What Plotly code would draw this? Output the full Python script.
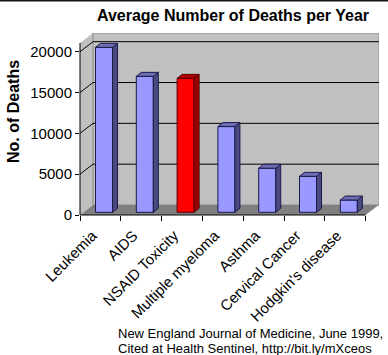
import plotly.graph_objects as go

# ---------------- data ----------------
categories = ["Leukemia", "AIDS", "NSAID Toxicity", "Multiple myeloma",
              "Asthma", "Cervical Cancer", "Hodgkin's disease"]
deaths = [20200, 16650, 16400, 10500, 5400, 4400, 1500]
highlight = "NSAID Toxicity"
y_ticks = [0, 5000, 10000, 15000, 20000]
y_tick_labels = ["0", "5000", "10000", "15000", "20000"]
title = "Average Number of Deaths per Year"
y_title = "No. of Deaths"
source_lines = ["New England Journal of Medicine, June 1999,",
                "Cited at Health Sentinel, http://bit.ly/mXceos"]

# ---------------- geometry (pseudo-3D, in axis units) ----------------
W, H = 388, 355
L, R, T, B = 80, 379, 33, 215          # plot area in pixels
CAT_PX = 40.8                           # pixels per category
VAL_PX = 8.165 / 1000                   # pixels per death
n = len(categories)
x0 = -0.5
x1 = x0 + (R - L) / CAT_PX
y1 = (B - T) / VAL_PX
DX = 13 / CAT_PX                        # wall depth
DY = 10 / VAL_PX
front_top = y1 - DY
BAR_OFF = -0.12
BAR_W = 0.417
BAR_BASE = 2.7 / VAL_PX
BDX = 5 / CAT_PX                        # bar depth
BDY = 4 / VAL_PX

FONT = "Arial, 'Liberation Sans', sans-serif"

def pxx(x):
    return (x - x0) / (x1 - x0)

def pxy(y):
    return y / y1

shapes = []
# left wall
shapes.append(dict(type="path", xref="x", yref="y", layer="below",
                   path=f"M {x0},0 L {x0+DX},{DY} L {x0+DX},{y1} L {x0},{front_top} Z",
                   fillcolor="#c0c0c0", line=dict(width=0)))
# back wall
shapes.append(dict(type="rect", xref="x", yref="y", layer="below",
                   x0=x0 + DX, x1=x1, y0=DY, y1=y1,
                   fillcolor="#c0c0c0", line=dict(color="#8a8a8a", width=1)))
# floor
shapes.append(dict(type="path", xref="x", yref="y", layer="below",
                   path=f"M {x0},0 L {n-0.5},0 L {n-0.5+DX},{DY} L {x0+DX},{DY} Z",
                   fillcolor="#808080", line=dict(width=0)))
# gridlines (back + left wall)
for v in y_ticks[1:]:
    shapes.append(dict(type="line", xref="x", yref="y", layer="below",
                       x0=x0 + DX, x1=x1, y0=v + DY, y1=v + DY,
                       line=dict(color="black", width=1)))
    shapes.append(dict(type="line", xref="x", yref="y", layer="below",
                       x0=x0, x1=x0 + DX, y0=v, y1=v + DY,
                       line=dict(color="black", width=1)))
# front axis lines
shapes.append(dict(type="line", xref="paper", yref="paper",
                   x0=pxx(x0), x1=pxx(x0), y0=0, y1=pxy(front_top),
                   line=dict(color="black", width=1)))
shapes.append(dict(type="line", xref="paper", yref="paper",
                   x0=0, x1=pxx(n - 0.5), y0=0, y1=0,
                   line=dict(color="black", width=1)))
# top border of the image
shapes.append(dict(type="line", xref="paper", yref="paper",
                   x0=-1, x1=2, y0=1 + (T - 0.8) / (B - T), y1=1 + (T - 0.8) / (B - T),
                   line=dict(color="#111111", width=1.6)))

fig = go.Figure()

xs = list(range(n))
front_colors = ["#ff0000" if c == highlight else "#9999ff" for c in categories]
edge_colors = ["#550000" if c == highlight else "#1a1a4d" for c in categories]

fig.add_trace(go.Bar(x=xs, y=deaths, base=BAR_BASE, offset=BAR_OFF, width=BAR_W,
                     marker=dict(color=front_colors,
                                 line=dict(color=edge_colors, width=1)),
                     hoverinfo="skip", showlegend=False))

def faces(indices):
    sx, sy, tx, ty = [], [], [], []
    for i in indices:
        v = deaths[i]
        xl = i + BAR_OFF
        xr = xl + BAR_W
        b0 = BAR_BASE
        b1 = BAR_BASE + v
        sx += [xr, xr + BDX, xr + BDX, xr, xr, None]
        sy += [b0, b0 + BDY, b1 + BDY, b1, b0, None]
        tx += [xl, xl + BDX, xr + BDX, xr, xl, None]
        ty += [b1, b1 + BDY, b1 + BDY, b1, b1, None]
    return sx, sy, tx, ty

blue_idx = [i for i, c in enumerate(categories) if c != highlight]
red_idx = [i for i, c in enumerate(categories) if c == highlight]
for idx, side_c, top_c, edge in [(blue_idx, "#4a4a80", "#6e6eb2", "#1a1a4d"),
                                 (red_idx, "#990000", "#b00000", "#550000")]:
    sx, sy, tx, ty = faces(idx)
    fig.add_trace(go.Scatter(x=sx, y=sy, mode="lines", fill="toself", fillcolor=side_c,
                             line=dict(color=edge, width=1), hoverinfo="skip",
                             showlegend=False))
    fig.add_trace(go.Scatter(x=tx, y=ty, mode="lines", fill="toself", fillcolor=top_c,
                             line=dict(color=edge, width=1), hoverinfo="skip",
                             showlegend=False))

annotations = [
    dict(text=f"<b>{y_title}</b>", xref="paper", yref="paper",
         x=(13 - L) / (R - L), y=(B - 112) / (B - T), textangle=-90,
         showarrow=False, font=dict(family=FONT, size=16, color="black"),
         xanchor="center", yanchor="middle"),
]
for k, line in enumerate(source_lines):
    annotations.append(dict(text=line, xref="paper", yref="paper",
                            x=(116 - L) / (R - L), y=(B - (333 + 15 * k)) / (B - T),
                            showarrow=False, xanchor="left", yanchor="middle",
                            font=dict(family=FONT, size=13, color="black")))

fig.update_layout(
    width=W, height=H,
    margin=dict(l=L, r=W - R, t=T, b=H - B, pad=0),
    paper_bgcolor="white", plot_bgcolor="white",
    title=dict(text=f"<b>{title}</b>", x=(233 - L) / (R - L), xref="paper",
               xanchor="center", y=1 - 15 / H, yanchor="middle",
               font=dict(family=FONT, size=16, color="black")),
    xaxis=dict(range=[x0, x1], tickmode="array", tickvals=xs, ticktext=categories,
               ticks="", tickangle=-45, showgrid=False, zeroline=False, showline=False,
               ticklabelstandoff=8, ticklabelshift=-8,
               tickfont=dict(family=FONT, size=15, color="black"),
               minor=dict(tickmode="array", tickvals=[i - 0.5 for i in range(n + 1)],
                          ticks="outside", ticklen=5, tickcolor="black", tickwidth=1,
                          showgrid=False),
               fixedrange=True),
    yaxis=dict(range=[0, y1], tickmode="array", tickvals=y_ticks, ticktext=y_tick_labels,
               ticks="outside", ticklen=4, tickcolor="black",
               showgrid=False, zeroline=False, showline=False,
               tickfont=dict(family=FONT, size=15, color="black"),
               fixedrange=True),
    shapes=shapes,
    annotations=annotations,
    bargap=0,
)

fig.write_html("out.html", config={"displayModeBar": False, "staticPlot": True},
               post_script="document.body.style.margin='0';document.body.style.overflow='hidden';")
